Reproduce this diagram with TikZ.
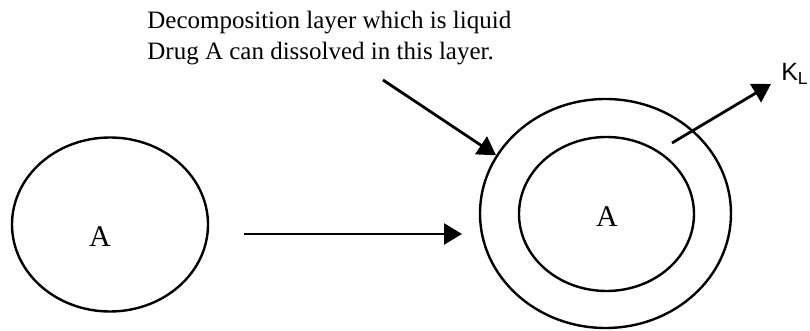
\documentclass[tikz,border=0pt]{standalone}
\usepackage{fontspec}
\setmainfont{Liberation Serif}
\setsansfont{Liberation Sans}
\usetikzlibrary{arrows.meta,shapes.geometric,positioning}

\begin{document}
\begin{tikzpicture}[
  x=0.5pt, y=-0.5pt,
  >={Triangle[length=9pt, width=10.5pt]},
  font=\fontsize{12.5}{15}\selectfont,
  particle/.style={draw, ellipse, line width=1.2pt, inner sep=0pt},
  note/.style={anchor=base west, inner sep=0pt},
  species/.style={font=\fontsize{15}{18}\selectfont, inner sep=0pt},
  line/.style={->, line width=1.4pt}
]
  \useasboundingbox (0,0) rectangle (810,331);

  % drug particle before and after
  \node[particle, minimum width=98pt, minimum height=87pt] (drug) at (110,224.5) {};
  \node[species] (labA) at (100,237) {A};

  \node[particle, minimum width=125.5pt, minimum height=114.5pt] (outer) at (605.5,213.5) {};
  \node[particle, species, minimum width=87.5pt, minimum height=77pt] (inner) at (606.5,214) {};
  \node[species] (labB) at (607,217) {A};

  % labels
  \node[note] (line1) at (147,29) {Decomposition layer which is liquid};
  \node[note] (line2) at (147,60) {Drug A can dissolved in this layer.};
  \node[font=\sffamily\fontsize{12.5}{14}\selectfont, inner sep=0pt] (kl) at (795,74) {K\textsubscript{L}};

  \coordinate (start) at (244,234);
  \coordinate (stop) at (462,234);
  \coordinate (tail) at (383,80);
  \coordinate (ring) at (672,143);
  \coordinate (flux) at (771,84);

  \draw[line] (start) -- (stop);
  \draw[line] (tail) -- (outer.152);
  \draw[line] (ring) -- (flux);
\end{tikzpicture}
\end{document}
